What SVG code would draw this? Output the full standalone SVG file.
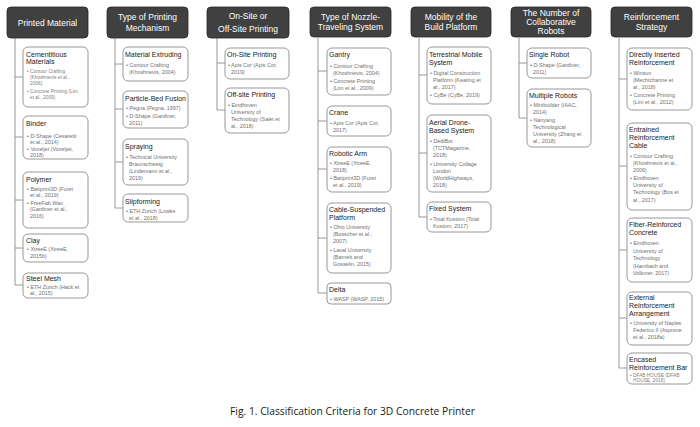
<svg xmlns="http://www.w3.org/2000/svg" width="700" height="427" viewBox="0 0 700 427">
<style>
.hdr{fill:#404040;stroke:#262626;stroke-width:0.8}
.ht{fill:#ffffff;font-family:"Liberation Sans",Arial,sans-serif;font-size:8.5px;text-anchor:middle}
.box{fill:#ffffff;stroke:#8c8c8c;stroke-width:0.9}
.bt{fill:#1a1a1a;font-family:"Liberation Sans",Arial,sans-serif;font-size:7px}
.it{fill:#707070;font-family:"Liberation Sans",Arial,sans-serif;font-size:5.4px}
.is{fill:#808080;font-family:"Liberation Sans",Arial,sans-serif;font-size:4.8px}
.con{fill:none;stroke:#8c8c8c;stroke-width:0.9}
.cap{fill:#1a1a1a;font-family:"Open Sans","Liberation Sans",sans-serif;font-size:10.5px}
</style>
<rect width="700" height="427" fill="#ffffff"/>
<g id="connectors">
<path class="con" d="M15 38V285M15 77H23M15 137H23M15 200H23M15 248H23M15 285H23"/>
<path class="con" d="M115 38V208M115 64H123M115 109H123M115 162H123M115 208H123"/>
<path class="con" d="M217 38V110M217 63H225M217 110H225"/>
<path class="con" d="M318 38V293M318 71H327M318 121H327M318 169H327M318 238H327M318 293H327"/>
<path class="con" d="M419 38V217M419 75H427M419 153H427M419 217H427"/>
<path class="con" d="M519 38V118M519 63H527M519 118H527"/>
<path class="con" d="M619 38V368M619 79H627M619 166H627M619 250H627M619 318H627M619 368H627"/>
</g>
<g id="h1"><rect class="hdr" x="7" y="7" width="81" height="31" rx="4"/><text class="ht" x="47.5" y="25.5">Printed Material</text></g>
<g id="h2"><rect class="hdr" x="107" y="7" width="81" height="31" rx="4"/><text class="ht" x="147.5" y="20">Type of Printing</text><text class="ht" x="147.5" y="31">Mechanism</text></g>
<g id="h3"><rect class="hdr" x="207" y="7" width="82" height="31" rx="4"/><text class="ht" x="248" y="19">On-Site or</text><text class="ht" x="248" y="32">Off-Site Printing</text></g>
<g id="h4"><rect class="hdr" x="310" y="7" width="81" height="30" rx="4"/><text class="ht" x="350.5" y="19.5">Type of Nozzle-</text><text class="ht" x="350.5" y="30">Traveling System</text></g>
<g id="h5"><rect class="hdr" x="411" y="7" width="80" height="30" rx="4"/><text class="ht" x="451" y="19.5">Mobility of the</text><text class="ht" x="451" y="30">Build Platform</text></g>
<g id="h6"><rect class="hdr" x="511" y="7" width="80" height="30" rx="4"/><text class="ht" x="551" y="16">The Number of</text><text class="ht" x="551" y="25">Collaborative</text><text class="ht" x="551" y="34">Robots</text></g>
<g id="h7"><rect class="hdr" x="611" y="7" width="81" height="30" rx="4"/><text class="ht" x="651.5" y="19.5">Reinforcement</text><text class="ht" x="651.5" y="30">Strategy</text></g>

<g id="n1a"><rect class="box" x="23" y="47" width="65" height="60" rx="5"/><text class="bt" x="26" y="57">Cementitious</text><text class="bt" x="26" y="64">Materials</text>
<text class="is" x="27" y="73">• Contour Crafting</text><text class="is" x="30" y="79">(Khoshnevis et al.,</text><text class="is" x="30" y="85">2006)</text><text class="is" x="27" y="93">• Concrete Printing (Lim</text><text class="is" x="30" y="99">et al., 2009)</text></g>
<g id="n1b"><rect class="box" x="23" y="116" width="65" height="43" rx="5"/><text class="bt" x="26" y="126">Binder</text>
<text class="it" x="27" y="138">• D-Shape (Cesaretti</text><text class="it" x="30" y="144">et al., 2014)</text><text class="it" x="27" y="151">• Voxeljet (Voxeljet,</text><text class="it" x="30" y="157">2018)</text></g>
<g id="n1c"><rect class="box" x="23" y="172" width="65" height="56" rx="5"/><text class="bt" x="26" y="182">Polymer</text>
<text class="it" x="27" y="191">• Batiprint3D (Furet</text><text class="it" x="30" y="197">et al., 2019)</text><text class="it" x="27" y="205">• FreeFab Wax</text><text class="it" x="30" y="211">(Gardiner et al.,</text><text class="it" x="30" y="218">2016)</text></g>
<g id="n1d"><rect class="box" x="23" y="234" width="65" height="28" rx="5"/><text class="bt" x="26" y="243">Clay</text>
<text class="it" x="27" y="251">• XtreeE (XtreeE,</text><text class="it" x="30" y="258">2015b)</text></g>
<g id="n1e"><rect class="box" x="23" y="273" width="65" height="25" rx="5"/><text class="bt" x="26" y="281">Steel Mesh</text>
<text class="it" x="27" y="289">• ETH Zurich (Hack et</text><text class="it" x="30" y="295">al., 2015)</text></g>

<g id="n2a"><rect class="box" x="123" y="47" width="65" height="34" rx="5"/><text class="bt" x="125" y="57">Material Extruding</text>
<text class="it" x="126" y="67">• Contour Crafting</text><text class="it" x="129" y="74">(Khoshnevis, 2004)</text></g>
<g id="n2b"><rect class="box" x="123" y="91" width="65" height="37" rx="5"/><text class="bt" x="125" y="101" textLength="61" lengthAdjust="spacingAndGlyphs">Particle-Bed Fusion</text>
<text class="it" x="126" y="110">• Pegna (Pegna, 1997)</text><text class="it" x="126" y="118">• D-Shape (Gardiner,</text><text class="it" x="129" y="125">2011)</text></g>
<g id="n2c"><rect class="box" x="123" y="139" width="65" height="46" rx="5"/><text class="bt" x="125" y="149">Spraying</text>
<text class="it" x="126" y="159">• Technical University</text><text class="it" x="129" y="166">Braunschweig</text><text class="it" x="129" y="173">(Lindemann et al.,</text><text class="it" x="129" y="180">2019)</text></g>
<g id="n2d"><rect class="box" x="123" y="194" width="65" height="28" rx="5"/><text class="bt" x="125" y="204">Slipforming</text>
<text class="it" x="126" y="213">• ETH Zurich (Lowke</text><text class="it" x="129" y="220">et al., 2018)</text></g>

<g id="n3a"><rect class="box" x="225" y="48" width="64" height="31" rx="5"/><text class="bt" x="227" y="57">On-Site Printing</text>
<text class="it" x="228" y="67">• Apis Cor (Apis Cor,</text><text class="it" x="231" y="74">2019)</text></g>
<g id="n3b"><rect class="box" x="225" y="88" width="64" height="45" rx="5"/><text class="bt" x="227" y="97">Off-site Printing</text>
<text class="it" x="228" y="107">• Eindhoven</text><text class="it" x="231" y="114">University of</text><text class="it" x="231" y="121">Technology (Salet et</text><text class="it" x="231" y="128">al., 2018)</text></g>

<g id="n4a"><rect class="box" x="327" y="48" width="64" height="47" rx="5"/><text class="bt" x="329" y="57">Gantry</text>
<text class="it" x="330" y="68">• Contour Crafting</text><text class="it" x="333" y="75">(Khoshnevis, 2004)</text><text class="it" x="330" y="83">• Concrete Printing</text><text class="it" x="333" y="90">(Lim et al., 2009)</text></g>
<g id="n4b"><rect class="box" x="327" y="106" width="64" height="30" rx="5"/><text class="bt" x="329" y="115">Crane</text>
<text class="it" x="330" y="125">• Apis Cor (Apis Cor,</text><text class="it" x="333" y="132">2017)</text></g>
<g id="n4c"><rect class="box" x="327" y="147" width="64" height="45" rx="5"/><text class="bt" x="329" y="156">Robotic Arm</text>
<text class="it" x="330" y="165">• XtreeE (XtreeE,</text><text class="it" x="333" y="172">2018)</text><text class="it" x="330" y="180">• Batiprint3D (Furet</text><text class="it" x="333" y="187">et al., 2019)</text></g>
<g id="n4d"><rect class="box" x="327" y="203" width="64" height="70" rx="5"/><text class="bt" x="329" y="212">Cable-Suspended</text><text class="bt" x="329" y="220">Platform</text>
<text class="it" x="330" y="229">• Ohio University</text><text class="it" x="333" y="236">(Bosscher et al.,</text><text class="it" x="333" y="243">2007)</text><text class="it" x="330" y="252">• Laval University</text><text class="it" x="333" y="259">(Barnett and</text><text class="it" x="333" y="266">Gosselin, 2015)</text></g>
<g id="n4e"><rect class="box" x="327" y="283" width="64" height="21" rx="4"/><text class="bt" x="329" y="292">Delta</text>
<text class="it" x="330" y="301">• WASP (WASP, 2015)</text></g>

<g id="n5a"><rect class="box" x="427" y="47" width="64" height="57" rx="5"/><text class="bt" x="429" y="57">Terrestrial Mobile</text><text class="bt" x="429" y="65">System</text>
<text class="it" x="430" y="75">• Digital Construction</text><text class="it" x="433" y="82">Platform (Keating et</text><text class="it" x="433" y="89">al., 2017)</text><text class="it" x="430" y="97">• CyBe (CyBe, 2019)</text></g>
<g id="n5b"><rect class="box" x="427" y="115" width="64" height="77" rx="5"/><text class="bt" x="429" y="125">Aerial Drone-</text><text class="bt" x="429" y="133">Based System</text>
<text class="it" x="430" y="143">• DediBot</text><text class="it" x="433" y="150">(TCTMagazine,</text><text class="it" x="433" y="157">2018)</text><text class="it" x="430" y="166">• University Collage</text><text class="it" x="433" y="173">London</text><text class="it" x="433" y="180">(WorldHighways,</text><text class="it" x="433" y="187">2018)</text></g>
<g id="n5c"><rect class="box" x="427" y="202" width="64" height="30" rx="5"/><text class="bt" x="429" y="211">Fixed System</text>
<text class="it" x="430" y="221">• Total Kustom (Total</text><text class="it" x="433" y="228">Kustom, 2017)</text></g>

<g id="n6a"><rect class="box" x="527" y="48" width="64" height="30" rx="5"/><text class="bt" x="529" y="57">Single Robot</text>
<text class="it" x="530" y="67">• D-Shape (Gardiner,</text><text class="it" x="533" y="74">2011)</text></g>
<g id="n6b"><rect class="box" x="527" y="89" width="64" height="58" rx="5"/><text class="bt" x="529" y="98">Multiple Robots</text>
<text class="it" x="530" y="107">• Minibuilder (IAAC,</text><text class="it" x="533" y="114">2014)</text><text class="it" x="530" y="122">• Nanyang</text><text class="it" x="533" y="129">Technological</text><text class="it" x="533" y="136">University (Zhang et</text><text class="it" x="533" y="143">al., 2018)</text></g>

<g id="n7a"><rect class="box" x="627" y="48" width="65" height="62" rx="5"/><text class="bt" x="629" y="57">Directly Inserted</text><text class="bt" x="629" y="65">Reinforcement</text>
<text class="it" x="630" y="75">• Winsun</text><text class="it" x="633" y="82">(Mechtcharine et</text><text class="it" x="633" y="89">al., 2018)</text><text class="it" x="630" y="97">• Concrete Printing</text><text class="it" x="633" y="104">(Lim et al., 2012)</text></g>
<g id="n7b"><rect class="box" x="627" y="123" width="65" height="87" rx="5"/><text class="bt" x="629" y="132">Entrained</text><text class="bt" x="629" y="140">Reinforcement</text><text class="bt" x="629" y="148">Cable</text>
<text class="it" x="630" y="158">• Contour Crafting</text><text class="it" x="633" y="165">(Khoshnevis et al.,</text><text class="it" x="633" y="172">2006)</text><text class="it" x="630" y="180">• Eindhoven</text><text class="it" x="633" y="187">University of</text><text class="it" x="633" y="194">Technology (Bos et</text><text class="it" x="633" y="202">al., 2017)</text></g>
<g id="n7c"><rect class="box" x="627" y="218" width="65" height="64" rx="5"/><text class="bt" x="629" y="227">Fiber-Reinforced</text><text class="bt" x="629" y="235">Concrete</text>
<text class="it" x="630" y="245">• Eindhoven</text><text class="it" x="633" y="253">University of</text><text class="it" x="633" y="260">Technology</text><text class="it" x="633" y="268">(Hambach and</text><text class="it" x="633" y="275">Volkmer, 2017)</text></g>
<g id="n7d"><rect class="box" x="627" y="292" width="65" height="53" rx="5"/><text class="bt" x="629" y="300">External</text><text class="bt" x="629" y="308">Reinforcement</text><text class="bt" x="629" y="316">Arrangement</text>
<text class="it" x="630" y="325">• University of Naples</text><text class="it" x="633" y="332">Federico II (Asprone</text><text class="it" x="633" y="339">et al., 2018a)</text></g>
<g id="n7e"><rect class="box" x="627" y="353" width="65" height="31" rx="5"/><text class="bt" x="629" y="362">Encased</text><text class="bt" x="629" y="370">Reinforcement Bar</text>
<text class="is" x="630" y="377">• DFAB HOUSE (DFAB</text><text class="is" x="633" y="382">HOUSE, 2018)</text></g>

<text class="cap" x="230" y="415" textLength="245" lengthAdjust="spacingAndGlyphs">Fig. 1. Classification Criteria for 3D Concrete Printer</text>
</svg>
